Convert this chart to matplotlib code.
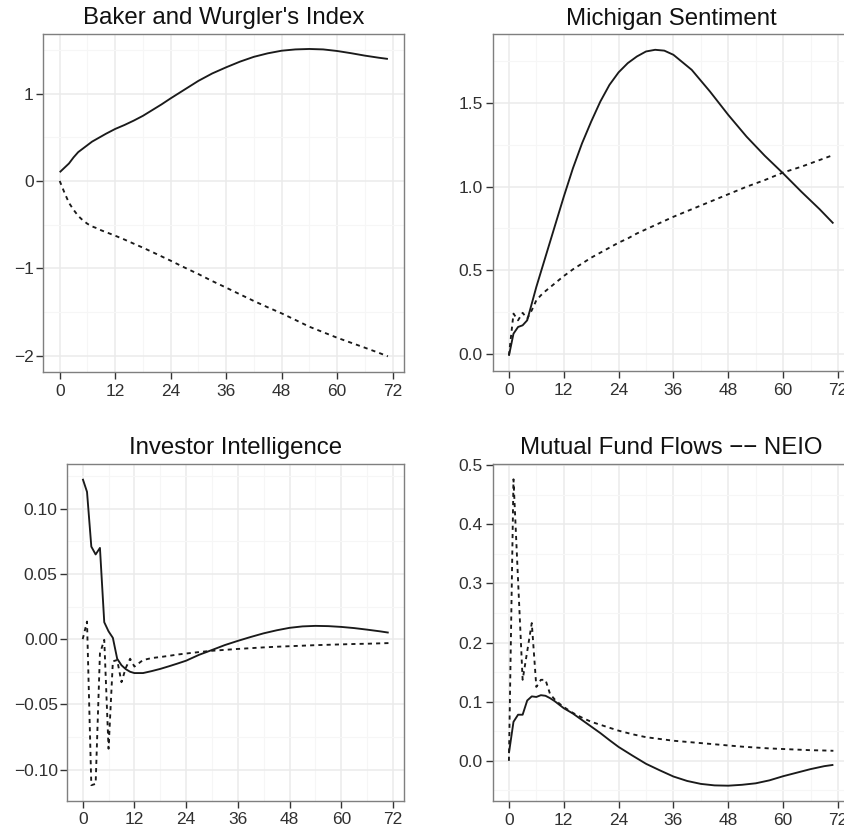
"""Impulse responses of four sentiment measures, 2x2 grid in a ggplot theme_bw look."""

import matplotlib

matplotlib.use("Agg")
import matplotlib.pyplot as plt
from matplotlib.ticker import FixedLocator

plt.rcParams["font.family"] = ["Liberation Sans", "DejaVu Sans"]

# --- data ------------------------------------------------------------------

bw_h = [0, 1, 2, 3, 4, 5, 6, 7, 8, 9, 10, 12, 14, 16, 18, 20, 22, 24, 27, 30,
        33, 36, 39, 42, 45, 48, 51, 54, 57, 60, 63, 66, 69, 71]
bw_solid = [0.10, 0.15, 0.20, 0.27, 0.33, 0.37, 0.41, 0.45, 0.48, 0.51, 0.54,
            0.595, 0.64, 0.69, 0.745, 0.81, 0.875, 0.945, 1.045, 1.145, 1.23,
            1.30, 1.365, 1.42, 1.46, 1.49, 1.505, 1.51, 1.505, 1.487, 1.462,
            1.434, 1.41, 1.396]
bw_dashed = [0.0, -0.13, -0.25, -0.33, -0.40, -0.45, -0.49, -0.52, -0.54,
             -0.565, -0.585, -0.626, -0.67, -0.717, -0.763, -0.812, -0.862,
             -0.912, -0.99, -1.065, -1.145, -1.22, -1.297, -1.373, -1.445,
             -1.514, -1.59, -1.667, -1.73, -1.793, -1.85, -1.907, -1.965, -2.006]
bw_yticks = [-2, -1, 0, 1]

mi_h = [0, 1, 2, 3, 4, 5, 6, 7, 8, 10, 12, 14, 16, 18, 20, 22, 24, 26, 28, 30,
        32, 34, 36, 40, 44, 48, 52, 56, 60, 64, 68, 71]
mi_solid = [-0.012, 0.12, 0.16, 0.17, 0.20, 0.30, 0.40, 0.49, 0.58, 0.76, 0.94,
            1.11, 1.26, 1.39, 1.51, 1.61, 1.685, 1.74, 1.78, 1.81, 1.82, 1.815,
            1.79, 1.70, 1.57, 1.43, 1.30, 1.185, 1.08, 0.97, 0.865, 0.78]
mi_dashed = [-0.01, 0.24, 0.20, 0.245, 0.21, 0.26, 0.32, 0.35, 0.375, 0.42,
             0.465, 0.505, 0.54, 0.575, 0.605, 0.635, 0.665, 0.69, 0.72, 0.745,
             0.77, 0.795, 0.82, 0.865, 0.91, 0.955, 1.0, 1.04, 1.085, 1.12,
             1.16, 1.19]
mi_yticks = [0.0, 0.5, 1.0, 1.5]

ii_h = [0, 1, 2, 3, 4, 5, 6, 7, 8, 9, 10, 11, 12, 14, 16, 18, 20, 22, 24, 27,
        30, 33, 36, 39, 42, 45, 48, 51, 54, 57, 60, 63, 66, 69, 71]
ii_solid = [0.123, 0.113, 0.071, 0.065, 0.070, 0.013, 0.006, 0.001, -0.015,
            -0.020, -0.023, -0.025, -0.026, -0.026, -0.0245, -0.0228, -0.0208,
            -0.0187, -0.0165, -0.012, -0.0083, -0.0045, -0.0013, 0.0017, 0.0045,
            0.0068, 0.0087, 0.0098, 0.0102, 0.0100, 0.0094, 0.0085, 0.0073,
            0.006, 0.005]
ii_dashed = [0.0, 0.0135, -0.112, -0.111, -0.011, -0.0005, -0.084, -0.017,
             -0.016, -0.033, -0.022, -0.015, -0.021, -0.016, -0.0145, -0.0137,
             -0.0128, -0.0118, -0.011, -0.0099, -0.0089, -0.0082, -0.0075,
             -0.0069, -0.0063, -0.0058, -0.0054, -0.005, -0.0046, -0.0043,
             -0.004, -0.0037, -0.0035, -0.0032, -0.003]
ii_yticks = [-0.10, -0.05, 0.00, 0.05, 0.10]

mf_h = [0, 1, 2, 3, 4, 5, 6, 7, 8, 9, 10, 11, 12, 14, 16, 18, 20, 22, 24, 27,
        30, 33, 36, 39, 42, 45, 48, 51, 54, 57, 60, 63, 66, 69, 71]
mf_solid = [0.013, 0.066, 0.078, 0.078, 0.102, 0.109, 0.108, 0.111, 0.110,
            0.106, 0.101, 0.095, 0.089, 0.080, 0.069, 0.058, 0.047, 0.035,
            0.0235, 0.009, -0.005, -0.016, -0.0265, -0.034, -0.039, -0.0415,
            -0.042, -0.0405, -0.038, -0.033, -0.026, -0.020, -0.014, -0.009,
            -0.0068]
mf_dashed = [0.0, 0.476, 0.305, 0.137, 0.185, 0.233, 0.125, 0.137, 0.137,
             0.113, 0.104, 0.097, 0.091, 0.081, 0.073, 0.066, 0.061, 0.056,
             0.051, 0.045, 0.040, 0.037, 0.034, 0.032, 0.030, 0.028, 0.026,
             0.024, 0.0225, 0.021, 0.020, 0.019, 0.018, 0.0175, 0.017]
mf_yticks = [0.0, 0.1, 0.2, 0.3, 0.4, 0.5]

x_ticks = [0, 12, 24, 36, 48, 60, 72]

W, H = 845, 830
TEXT = "#303030"
LINE = "#1a1a1a"


def _rect(left, top, right, bottom):
    """Pixel box (origin top-left) -> figure fraction rect."""
    return [left / W, (H - bottom) / H, (right - left) / W, (bottom - top) / H]


def _panel(fig, box, title, h, solid, dashed, yticks, fmt):
    ax = fig.add_axes(_rect(*box))
    ax.plot(h, solid, color=LINE, lw=1.35, solid_capstyle="butt")
    ax.plot(h, dashed, color=LINE, lw=1.35, dashes=(2.2, 2.2))
    ax.margins(0.05)

    ax.set_xticks(x_ticks)
    ax.set_xticklabels([str(t) for t in x_ticks])
    ax.xaxis.set_minor_locator(FixedLocator([t + 6 for t in x_ticks[:-1]] + [-6, 78]))
    ax.set_yticks(yticks)
    ax.set_yticklabels([fmt.format(v).replace("-", "\u2212") for v in yticks])
    step = yticks[1] - yticks[0]
    ax.yaxis.set_minor_locator(FixedLocator(
        [yticks[0] - step / 2] + [v + step / 2 for v in yticks]))

    ax.grid(which="major", color="#ebebeb", lw=1.1)
    ax.grid(which="minor", color="#f6f6f6", lw=0.8)
    ax.set_axisbelow(True)
    ax.tick_params(which="major", length=5, width=1.0, color="#333333",
                   labelsize=12.5, labelcolor=TEXT, pad=2)
    ax.tick_params(axis="x", which="major", pad=3.5)
    ax.tick_params(which="minor", length=0)
    for s in ax.spines.values():
        s.set_color("#7f7f7f")
        s.set_linewidth(1.0)
    ax.set_title(title, fontsize=17.3, color="#111111", pad=7)
    return ax


def main():
    fig = plt.figure(figsize=(W / 100, H / 100), dpi=100)
    fig.patch.set_facecolor("white")

    _panel(fig, (43.3, 33.6, 404.3, 371.7), "Baker and Wurgler's Index",
           bw_h, bw_solid, bw_dashed, bw_yticks, "{:.0f}")
    _panel(fig, (492.7, 34.5, 849.6, 371.0), "Michigan Sentiment",
           mi_h, mi_solid, mi_dashed, mi_yticks, "{:.1f}")
    _panel(fig, (67.4, 463.5, 404.0, 800.5), "Investor Intelligence",
           ii_h, ii_solid, ii_dashed, ii_yticks, "{:.2f}")
    _panel(fig, (492.7, 464.0, 849.6, 801.0), "Mutual Fund Flows \u2212\u2212 NEIO",
           mf_h, mf_solid, mf_dashed, mf_yticks, "{:.1f}")

    fig.savefig("out.png", dpi=100)
    plt.close(fig)


if __name__ == "__main__":
    main()
